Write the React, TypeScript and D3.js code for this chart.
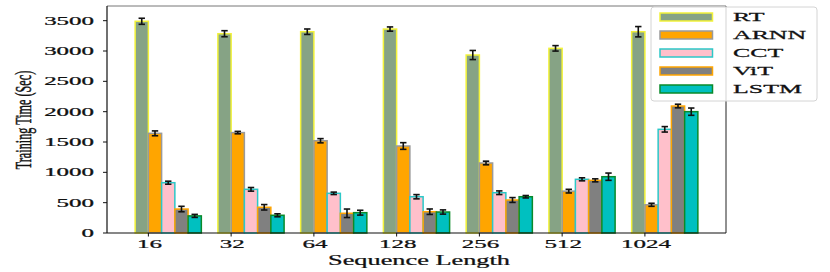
import React from "react";
import * as d3 from "d3";

const categories = ["16", "32", "64", "128", "256", "512", "1024"];
const seriesNames = ["RT", "ARNN", "CCT", "ViT", "LSTM"];
const rtValues = [3490, 3285, 3318, 3362, 2934, 3044, 3318];
const arnnValues = [1643, 1655, 1521, 1434, 1154, 690, 465];
const cctValues = [829, 720, 654, 598, 664, 885, 1709];
const vitValues = [395, 424, 325, 351, 544, 868, 2093];
const lstmValues = [282, 292, 335, 346, 598, 928, 2000];
const rtErr = [50, 50, 45, 35, 75, 45, 85];
const arnnErr = [40, 20, 35, 55, 30, 30, 25];
const cctErr = [25, 30, 20, 35, 30, 25, 45];
const vitErr = [45, 45, 70, 45, 40, 25, 30];
const lstmErr = [25, 25, 40, 35, 20, 60, 60];
const yTicks = [0, 500, 1000, 1500, 2000, 2500, 3000, 3500];

const seriesValues = [rtValues, arnnValues, cctValues, vitValues, lstmValues];
const seriesErrors = [rtErr, arnnErr, cctErr, vitErr, lstmErr];
const fills = ["#86a385", "#ffa500", "#ffc0cb", "#808080", "#00c0c0"];
const edges = ["#f2f23a", "#9a9a9a", "#2cc8c8", "#ffa500", "#0a8a2a"];

const W = 830;
const H = 272;
const left = 107;
const right = 726;
const top = 6;
const bottom = 233;
const FONT = "'Liberation Serif', 'Times New Roman', serif";
const TS = { stroke: "#111", strokeWidth: 0.25 };

export default function App() {
  const x = d3.scaleLinear().domain([-0.5, 6.98]).range([left, right]);
  const y = d3.scaleLinear().domain([0, 3742]).range([bottom, top]);
  const bw = 0.16;
  const bwPx = x(bw) - x(0);

  return (
    <svg width={W} height={H} style={{ display: "block", position: "absolute", left: 0, top: 0 }}>
      <rect x={0} y={0} width={W} height={H} fill="#fff" />
      {seriesValues.map((vals, s) =>
        vals.map((v, i) => {
          const cx = i - bw / 2 + s * bw;
          const x0 = x(cx - bw / 2);
          return (
            <rect
              key={`b${s}-${i}`}
              x={x0}
              y={y(v)}
              width={bwPx}
              height={y(0) - y(v)}
              fill={fills[s]}
              stroke={edges[s]}
              strokeWidth={1.5}
            />
          );
        })
      )}
      {seriesValues.map((vals, s) =>
        vals.map((v, i) => {
          const cx = x(i - bw / 2 + s * bw);
          const e = seriesErrors[s][i];
          return (
            <g key={`e${s}-${i}`} stroke="#111" strokeWidth={1.6}>
              <line x1={cx} x2={cx} y1={y(v - e)} y2={y(v + e)} />
              <line x1={cx - 3.2} x2={cx + 3.2} y1={y(v - e)} y2={y(v - e)} />
              <line x1={cx - 3.2} x2={cx + 3.2} y1={y(v + e)} y2={y(v + e)} />
            </g>
          );
        })
      )}
      <line x1={left} x2={right} y1={top} y2={top} stroke="#777" strokeWidth={1} />
      <line x1={right} x2={right} y1={top} y2={bottom} stroke="#222" strokeWidth={1} />
      <line x1={left} x2={left} y1={top} y2={bottom} stroke="#111" strokeWidth={1.2} />
      <line x1={left} x2={right} y1={bottom} y2={bottom} stroke="#111" strokeWidth={1.2} />
      {yTicks.map((t) => (
        <g key={`yt${t}`}>
          <line x1={left - 4} x2={left} y1={y(t)} y2={y(t)} stroke="#111" strokeWidth={1} />
          <text
            transform={`translate(94,${y(t) + 4}) scale(2.17,1)`}
            textAnchor="end"
            fontFamily={FONT}
            fontSize={11.5}
            fill="#111"
            {...TS}
          >
            {t}
          </text>
        </g>
      ))}
      {categories.map((c, i) => (
        <g key={`xt${c}`}>
          <line x1={x(i)} x2={x(i)} y1={bottom} y2={bottom + 3.5} stroke="#111" strokeWidth={1} />
          <text
            transform={`translate(${x(i) + 1},${248}) scale(1.88,1)`}
            textAnchor="middle"
            fontFamily={FONT}
            fontSize={13.3}
            fill="#111"
            {...TS}
          >
            {c}
          </text>
        </g>
      ))}
      <text
        transform={`translate(419,265) scale(1.88,1)`}
        textAnchor="middle"
        fontFamily={FONT}
        fontSize={14}
        fill="#111"
        {...TS}
      >
        Sequence Length
      </text>
      <text
        transform={`translate(31,120) scale(1.95,1) rotate(-90)`}
        textAnchor="middle"
        fontFamily={FONT}
        fontSize={12.2}
        fill="#111"
        {...TS}
      >
        Training Time (Sec)
      </text>
      <rect
        x={651}
        y={7}
        width={166}
        height={94}
        rx={3}
        fill="#fff"
        fillOpacity={0.8}
        stroke="#d4d4d4"
        strokeWidth={1}
      />
      {seriesNames.map((n, s) => {
        const cy = 17 + s * 18;
        return (
          <g key={`lg${n}`}>
            <rect
              x={660}
              y={cy - 4}
              width={52.5}
              height={8}
              fill={fills[s]}
              stroke={edges[s]}
              strokeWidth={1.5}
            />
            <text
              transform={`translate(733,${cy + 4.3}) scale(2.05,1)`}
              fontFamily={FONT}
              fontSize={12.6}
              fill="#111"
              {...TS}
            >
              {n}
            </text>
          </g>
        );
      })}
    </svg>
  );
}
